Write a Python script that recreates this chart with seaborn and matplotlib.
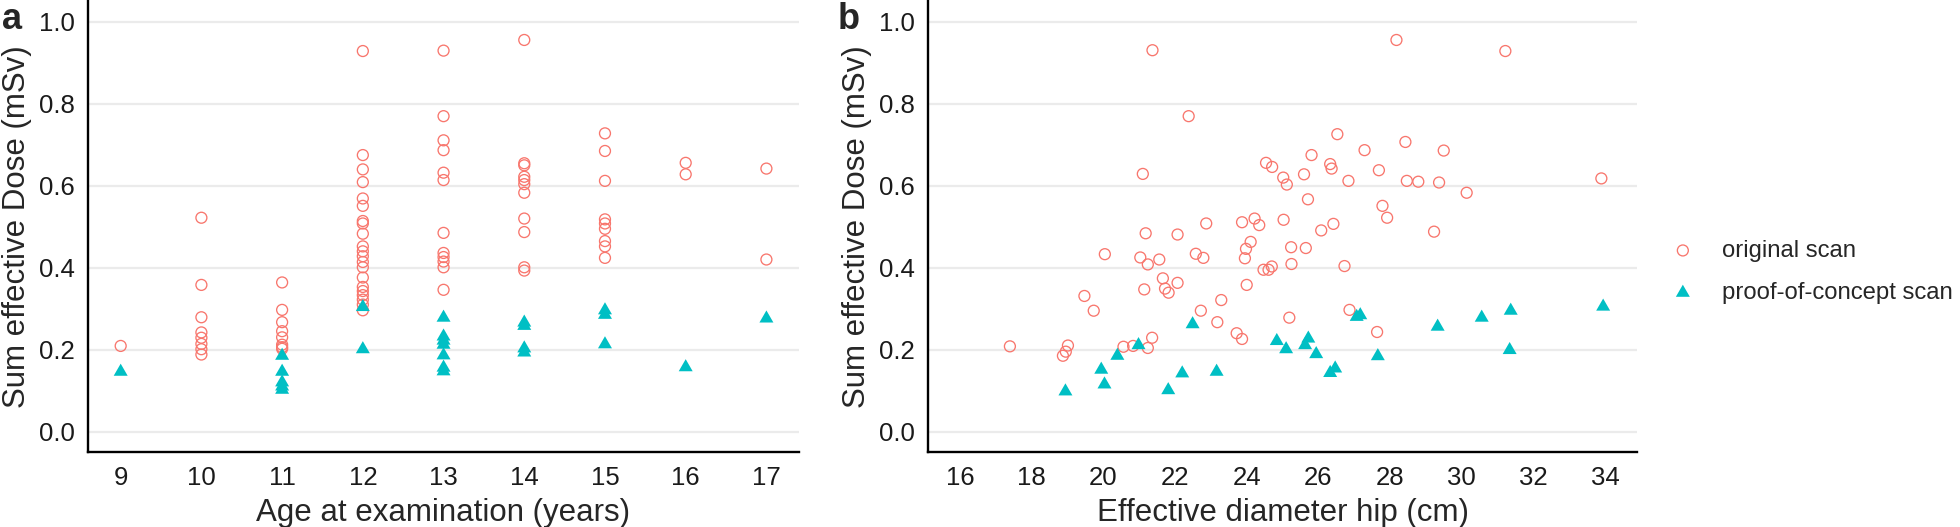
import numpy as np
import pandas as pd
import matplotlib
matplotlib.use("Agg")
import matplotlib.pyplot as plt
import seaborn as sns

# ---- data ----
# panel a: age at examination (years) vs sum effective dose (mSv)
age_orig = [9,
            10, 10, 10, 10, 10, 10, 10, 10,
            11, 11, 11, 11, 11, 11, 11, 11,
            12, 12, 12, 12, 12, 12, 12, 12, 12, 12, 12, 12, 12, 12, 12, 12, 12, 12, 12, 12, 12,
            13, 13, 13, 13, 13, 13, 13, 13, 13, 13, 13, 13,
            14, 14, 14, 14, 14, 14, 14, 14, 14, 14, 14,
            15, 15, 15, 15, 15, 15, 15, 15, 15,
            16, 16,
            17, 17]
dose_age_orig = [0.209,
                 0.522, 0.358, 0.279, 0.242, 0.229, 0.214, 0.201, 0.188,
                 0.364, 0.297, 0.267, 0.245, 0.230, 0.212, 0.206, 0.202,
                 0.929, 0.675, 0.640, 0.609, 0.569, 0.551, 0.514, 0.508, 0.483, 0.452, 0.440,
                 0.428, 0.414, 0.401, 0.376, 0.353, 0.343, 0.333, 0.322, 0.310, 0.296,
                 0.930, 0.770, 0.711, 0.687, 0.632, 0.614, 0.485, 0.436, 0.426, 0.415, 0.401, 0.346,
                 0.956, 0.655, 0.650, 0.622, 0.614, 0.604, 0.583, 0.520, 0.487, 0.401, 0.393,
                 0.728, 0.685, 0.612, 0.518, 0.508, 0.495, 0.465, 0.452, 0.424,
                 0.656, 0.628,
                 0.642, 0.420]
age_poc = [9,
           11, 11, 11, 11, 11,
           12, 12,
           13, 13, 13, 13, 13, 13, 13,
           14, 14, 14, 14,
           15, 15, 15,
           16,
           17]
dose_age_poc = [0.146,
                0.185, 0.146, 0.120, 0.110, 0.102,
                0.304, 0.201,
                0.278, 0.232, 0.222, 0.212, 0.186, 0.156, 0.147,
                0.266, 0.258, 0.203, 0.193,
                0.296, 0.285, 0.213,
                0.157,
                0.276]

# panel b: effective diameter hip (cm) vs sum effective dose (mSv)
diam_orig = [17.39, 19.01, 18.95, 18.87, 19.47, 19.73, 20.04, 20.56, 20.83, 21.37,
             22.38, 21.10, 21.18, 22.07, 22.87, 23.87, 24.22, 24.35, 21.03, 21.24,
             21.56, 22.58, 22.79, 24.11, 23.98, 23.95, 21.66, 21.72, 21.82, 22.07,
             21.14, 24.00, 23.29, 22.72, 23.18, 23.72, 23.87, 21.24, 21.36, 28.18,
             26.53, 27.29, 25.81, 24.54, 24.71, 26.33, 26.37, 27.69, 25.02, 25.12,
             25.60, 26.84, 25.71, 27.79, 27.92, 25.03, 26.42, 26.08, 25.24, 25.65,
             25.25, 26.73, 24.47, 24.61, 24.70, 25.19, 26.87, 27.64, 31.22, 28.43,
             29.50, 28.47, 28.79, 29.37, 30.14, 33.90, 29.23]
dose_diam_orig = [0.208, 0.210, 0.195, 0.185, 0.331, 0.295, 0.433, 0.207, 0.209, 0.931,
                  0.770, 0.629, 0.484, 0.481, 0.508, 0.511, 0.520, 0.504, 0.425, 0.408,
                  0.420, 0.434, 0.424, 0.463, 0.446, 0.423, 0.374, 0.349, 0.339, 0.363,
                  0.347, 0.358, 0.321, 0.295, 0.267, 0.240, 0.226, 0.204, 0.229, 0.956,
                  0.726, 0.687, 0.675, 0.656, 0.646, 0.653, 0.642, 0.638, 0.620, 0.603,
                  0.628, 0.612, 0.567, 0.551, 0.522, 0.517, 0.507, 0.491, 0.450, 0.448,
                  0.409, 0.404, 0.395, 0.395, 0.403, 0.278, 0.297, 0.243, 0.929, 0.707,
                  0.686, 0.612, 0.610, 0.608, 0.583, 0.618, 0.488]
diam_poc = [18.94, 19.94, 20.03, 20.39, 20.98, 22.49, 22.20, 23.16, 21.81, 24.84,
            25.10, 25.72, 25.63, 25.94, 26.47, 26.33, 27.07, 27.17, 27.66, 29.33,
            30.56, 31.37, 31.34, 33.95]
dose_diam_poc = [0.098, 0.151, 0.115, 0.185, 0.211, 0.262, 0.142, 0.146, 0.101, 0.221,
                 0.201, 0.227, 0.211, 0.189, 0.154, 0.143, 0.280, 0.284, 0.184, 0.256,
                 0.278, 0.295, 0.199, 0.305]

scan_labels = ["original scan", "proof-of-concept scan"]
y_ticks = [0.0, 0.2, 0.4, 0.6, 0.8, 1.0]
age_ticks = [9, 10, 11, 12, 13, 14, 15, 16, 17]
diam_ticks = [16, 18, 20, 22, 24, 26, 28, 30, 32, 34]

# ---- style ----
sns.set_style("white")
plt.rcParams["font.family"] = ["Liberation Sans", "DejaVu Sans"]

red = "#F8766D"
teal = "#00BFC4"
# triangle centred on its centroid, like R's pch 17
tri = [(0, 1), (-0.866, -0.5), (0.866, -0.5), (0, 1)]

fig = plt.figure(figsize=(19.6, 5.27), dpi=100)
ax_a = fig.add_axes([0.0451, 0.1423, 0.3624, 0.8549])
ax_b = fig.add_axes([0.4734, 0.1423, 0.3619, 0.8549])

panels = [
    (ax_a, age_orig, dose_age_orig, age_poc, dose_age_poc, age_ticks, (8.6, 17.4),
     "Age at examination (years)", "a", 0.001),
    (ax_b, diam_orig, dose_diam_orig, diam_poc, dose_diam_poc, diam_ticks, (15.1, 34.9),
     "Effective diameter hip (cm)", "b", 0.4275),
]

for ax, xo, yo, xp, yp, xt, xlim, xlabel, tag, tag_x in panels:
    df_o = pd.DataFrame({"x": xo, "dose": yo})
    df_p = pd.DataFrame({"x": xp, "dose": yp})
    for yv in y_ticks:
        ax.axhline(yv, color="#EBEBEB", lw=1.6, zorder=0)
    sns.scatterplot(data=df_o, x="x", y="dose", ax=ax, marker="o", s=62,
                    facecolor="none", edgecolor=red, linewidth=0.95,
                    label=scan_labels[0], legend=False, zorder=3)
    sns.scatterplot(data=df_p, x="x", y="dose", ax=ax, marker=tri, s=135,
                    color=teal, edgecolor="none", linewidth=0,
                    label=scan_labels[1], legend=False, zorder=3)
    ax.set_xlim(*xlim)
    ax.set_ylim(-0.05, 1.05)
    ax.set_xticks(xt)
    ax.set_yticks(y_ticks)
    ax.set_yticklabels([f"{v:.1f}" for v in y_ticks])
    ax.set_xlabel(xlabel, fontsize=22.5, labelpad=6)
    ax.set_ylabel("Sum effective Dose (mSv)", fontsize=22.5, labelpad=5)
    ax.tick_params(axis="both", labelsize=18.5, length=5.5, width=1.1,
                   color="black", labelcolor="#1a1a1a", direction="out")
    ax.tick_params(axis="x", pad=4.5)
    ax.tick_params(axis="y", pad=4)
    ax.grid(False)
    for side in ["top", "right"]:
        ax.spines[side].set_visible(False)
    for side in ["left", "bottom"]:
        ax.spines[side].set_color("black")
        ax.spines[side].set_linewidth(1.7)
    fig.text(tag_x, 0.9457, tag, fontsize=26, fontweight="bold", va="baseline", ha="left")

handles, labels = ax_b.get_legend_handles_labels()
fig.legend(handles, labels, loc="center left", bbox_to_anchor=(0.8525, 0.4841),
           frameon=False, fontsize=17.2, handlelength=1.0, handletextpad=1.15,
           labelspacing=0.85, borderpad=0, borderaxespad=0, scatterpoints=1)

fig.savefig("out.png", dpi=100)
